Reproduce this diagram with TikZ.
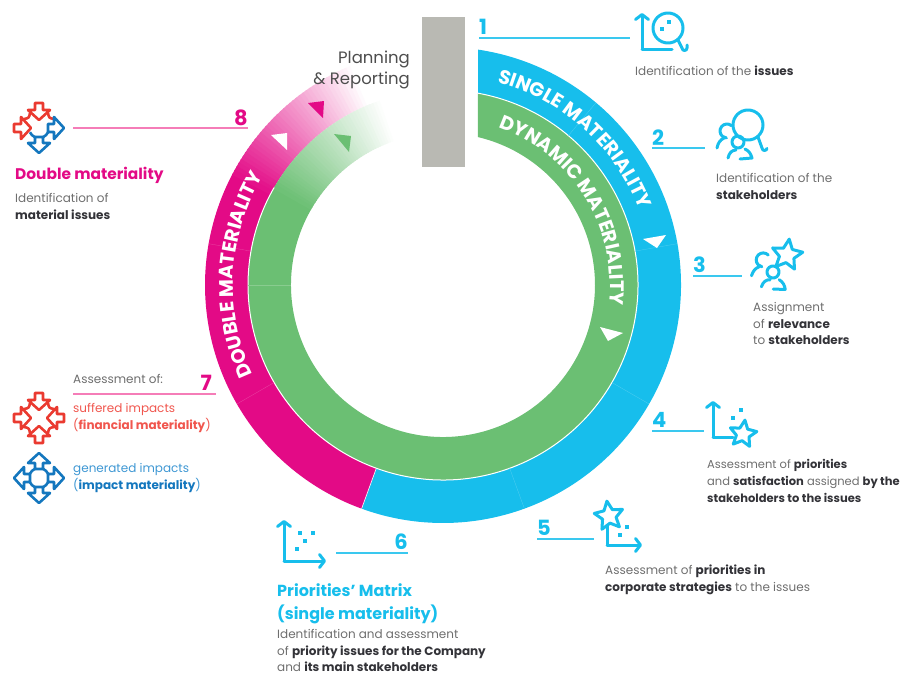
\documentclass[tikz,border=0pt]{standalone}
\usepackage{fontspec}
\setmainfont{Poppins}
\usepackage{xcolor}
\usetikzlibrary{calc,arrows.meta,decorations.text}

\definecolor{ringblue}{HTML}{17BEEC}
\definecolor{ringgreen}{HTML}{6BBF73}
\definecolor{ringpink}{HTML}{E30A86}
\definecolor{barGray}{HTML}{B9B9B3}
\definecolor{leadpink}{HTML}{F57DB8}
\definecolor{iconred}{HTML}{EA3A30}
\definecolor{iconblue}{HTML}{1477BE}
\definecolor{textgray}{HTML}{6E6E6E}
\definecolor{textdark}{HTML}{333338}
\definecolor{textred}{HTML}{F0564E}
\definecolor{textblue}{HTML}{3E97D3}

\newcommand{\ringfont}{\fontsize{19.5}{19.5}\selectfont\bfseries}
\newcommand{\dk}[1]{\textbf{\textcolor{textdark}{#1}}}

\tikzset{
    bodytext/.style={font=\fontsize{12}{16.8}\selectfont, text=textgray, align=left, anchor=north west, inner sep=0pt},
    headtext/.style={font=\fontsize{16}{23}\selectfont\bfseries, align=left, anchor=north west, inner sep=0pt},
    numcyan/.style={font=\fontsize{21}{21}\selectfont\bfseries, text=ringblue, inner sep=0pt},
    numpink/.style={font=\fontsize{21}{21}\selectfont\bfseries, text=ringpink, inner sep=0pt},
    leadcyan/.style={draw=ringblue!85, line width=1.5pt},
    leadpinkline/.style={draw=leadpink, line width=1.5pt},
    tri/.style={fill=white},
    seam/.style={line width=0.3pt},
    cyanicon/.style={color=ringblue, line width=3pt, line join=round, line cap=round},
    redicon/.style={color=iconred, line width=2.6pt, line join=round},
    blueicon/.style={color=iconblue, line width=2.6pt, line join=round},
    barb/.style={-{Straight Barb[length=5pt,width=13pt,round]}},
    pics/inblock/.style={code={
        \draw (-4,25)--(4,25)--(4,18)--(11,18)--(0,8)--(-11,18)--(-4,18)--cycle;
        \draw (9,15) .. controls (10,10) .. (15,9);
    }},
    pics/outblock/.style={code={
        \draw (0,25)--(11,15)--(4,15)--(4,9)--(-4,9)--(-4,15)--(-11,15)--cycle;
        \draw (65:10) arc (65:25:10);
    }},
    pics/staricon/.style={code={
        \draw (90:1)--(126:.48)--(162:1)--(198:.48)--(234:1)--(270:.48)--(306:1)--(342:.48)--(18:1)--(54:.48)--cycle;
    }},
    pics/peopleicon/.style={code={
        % back person
        \draw ($(-11,11)+(50:7)$) arc (50:265:7);
        \draw (-21,-6) .. controls (-20,-1) and (-18,2) .. (-14,4);
        % front person
        \draw (0,0) circle (6);
        \draw (-10,-16) .. controls (-9,-11) and (-6,-8) .. (-2,-8);
        \draw (7,-7) .. controls (11,-9) and (13,-12) .. (14,-16) -- (2,-17);
    }},
}

\begin{document}
\begin{tikzpicture}[x=1pt,y=1pt]
    \useasboundingbox (0,0) rectangle (905,-678);

    % Ring
    \begin{scope}[shift={(443,-285)}]
        % Outer band
        \fill[ringblue] (81.54:238) arc (81.54:-110:238) -- (-110:195) arc (-110:79.66:195) -- cycle;
        \fill[ringpink] (250:238) arc (250:152:238) -- (152:195) arc (152:250:195) -- cycle;
        % Inner band
        \fill[ringgreen] (79.66:195) arc (79.66:-210:195) -- (-210:152) arc (-210:76.69:152) -- cycle;

        % Faded ends
        \foreach \a in {112,...,151} {
            \pgfmathtruncatemacro\p{(\a-112)*100/40}
            \fill[ringpink!\p!white] (\a:238) arc (\a:\a+1.4:238) -- (\a+1.4:195) arc (\a+1.4:\a:195) -- cycle;
        }
        \foreach \a in {108,...,149} {
            \pgfmathtruncatemacro\p{(\a-108)*100/42}
            \fill[ringgreen!\p!white] (\a:195) arc (\a:\a+1.4:195) -- (\a+1.4:152) arc (\a+1.4:\a:152) -- cycle;
        }

        % White line between the bands
        \draw[white, line width=1pt] (79.66:195) arc (79.66:-210:195);

        % Seams
        \foreach \a in {50,10,-30,-70} {
            \draw[seam, white!25!ringblue] (\a:195) -- (\a:238);
        }
        \foreach \a in {170,210} {
            \draw[seam, white!25!ringpink] (\a:195) -- (\a:238);
        }
        \draw[white, line width=0.6pt] (250:195) -- (250:238);
        \draw[seam, white!20!ringgreen] (180:152) -- (180:195);

        % Band titles
        \path[decorate, decoration={text along path, text align={align=center}, text color=white,
            text={|\ringfont|SINGLE MATERIALITY}}] (95:210) arc (95:1:210);
        \path[decorate, decoration={text along path, text align={align=center}, text color=white,
            text={|\ringfont|DYNAMIC MATERIALITY}}] (88:167) arc (88:-24:167);
        \path[decorate, decoration={text along path, text align={align=center}, text color=white,
            text={|\ringfont|DOUBLE MATERIALITY}}] (225:210) arc (225:129:210);
    \end{scope}

    % Grey bar
    \fill[barGray] (422,-17) rectangle (465,-167);

    % Triangles
    \fill[tri] (643,-239) -- (666,-235) -- (657,-248) -- cycle;
    \fill[tri] (600,-327) -- (623,-333) -- (608,-341) -- cycle;
    \fill[tri] (271,-135) -- (287,-133) -- (287,-150) -- cycle;
    \fill[ringpink] (308,-103) -- (324,-101) -- (323,-118) -- cycle;
    \fill[ringgreen] (334,-134) -- (351,-136) -- (349,-152) -- cycle;

    \node[font=\fontsize{16.5}{21.5}\selectfont, text=textgray!70!black, align=right, anchor=east, inner sep=0pt] (planning) at (410,-70) {Planning\\\& Reporting};

    % Leaders
    \coordinate (a1) at (479,-38);  \coordinate (b1) at (630,-38);
    \coordinate (a2) at (652,-148); \coordinate (b2) at (705,-148);
    \coordinate (a3) at (693,-276); \coordinate (b3) at (742,-276);
    \coordinate (a4) at (652,-431); \coordinate (b4) at (704,-431);
    \coordinate (a5) at (537,-539); \coordinate (b5) at (594,-539);
    \coordinate (a6) at (336,-553); \coordinate (b6) at (408,-553);
    \coordinate (a7) at (73,-394);  \coordinate (b7) at (216,-394);
    \coordinate (a8) at (73,-128);  \coordinate (b8) at (248,-128);
    \foreach \i in {1,...,6} {
        \draw[leadcyan] (a\i) -- (b\i);
    }
    \draw[leadpinkline] (a7) -- (b7);
    \draw[leadpinkline] (a8) -- (b8);

    % Numbers
    \node[numcyan, anchor=base west] (n1) at (479,-34) {1};
    \node[numcyan, anchor=base west] (n2) at (652,-145) {2};
    \node[numcyan, anchor=base west] (n3) at (693,-272) {3};
    \node[numcyan, anchor=base west] (n4) at (652,-427) {4};
    \node[numcyan, anchor=base west] (n5) at (537,-535) {5};
    \node[numcyan, anchor=base east] (n6) at (408,-549) {6};
    \node[numpink, anchor=base east] (n7) at (212,-390) {7};
    \node[numpink, anchor=base east] (n8) at (248,-125) {8};

    % Icon 1
    \draw[cyanicon, barb] (642,-49) -- (642,-13);
    \draw[cyanicon] (642,-49) -- (672,-49);
    \draw[cyanicon] (668,-28) circle (15);
    \draw[cyanicon] (678,-40) -- (682,-48) arc (180:360:2.5) -- (687,-45);
    \fill[ringblue] (667,-19.5) rectangle (671,-23.5);
    \fill[ringblue] (660,-26.5) rectangle (664,-30.5);

    % Icon 2
    \pic[cyanicon] at (738,-142) {peopleicon};
    \draw[cyanicon] (748,-125) circle (15);
    \draw[cyanicon] (758,-137) -- (762,-148) arc (180:350:2.5);

    % Icon 3
    \pic[cyanicon, rotate=-6] at (773,-272) {peopleicon};
    \pic[cyanicon, scale=16, rotate=-8] at (787,-255) {staricon};

    % Icon 4
    \draw[cyanicon, barb] (713,-437) -- (713,-401);
    \draw[cyanicon] (713,-437) -- (733,-437);
    \pic[cyanicon, scale=14, rotate=-8] at (743,-434) {staricon};
    \fill[ringblue] (739,-408) rectangle (743,-412);
    \fill[ringblue] (731,-416) rectangle (735,-420);

    % Icon 5
    \pic[cyanicon, scale=15, rotate=8] at (609,-516) {staricon};
    \draw[cyanicon, barb] (607,-545) -- (642,-545);
    \draw[cyanicon] (607,-545) -- (607,-526);
    \fill[ringblue] (625,-525) rectangle (629,-529);
    \fill[ringblue] (618,-533) rectangle (622,-537);

    % Icon 6
    \draw[cyanicon, barb] (284,-561) -- (284,-520);
    \draw[cyanicon, barb] (284,-561) -- (326,-561);
    \foreach \dx/\dy in {300/533,313/533,305/541,297/549} {
        \fill[ringblue] (\dx-2,-\dy+2) rectangle (\dx+2,-\dy-2);
    }

    % Icon 8
    \foreach \r in {0,90} {
        \pic[redicon, rotate=\r] at (39,-128) {inblock};
    }
    \foreach \r in {-90,180} {
        \pic[blueicon, rotate=\r] at (39,-128) {outblock};
    }

    % Icon 7
    \foreach \r in {0,90,180,270} {
        \pic[redicon, rotate=\r] at (39,-418) {inblock};
        \pic[blueicon, rotate=\r] at (39,-478) {outblock};
    }

    % Texts
    \node[bodytext] (t1) at (635,-66) {Identification of the \dk{issues}};
    \node[bodytext] (t2) at (716,-173) {Identification of the\\\dk{stakeholders}};
    \node[bodytext] (t3) at (753,-302) {Assignment\\of \dk{relevance}\\to \dk{stakeholders}};
    \node[bodytext, font=\fontsize{11.5}{16.8}\selectfont] (t4) at (707,-459) {Assessment of \dk{priorities}\\and \dk{satisfaction} assigned \dk{by the}\\\dk{stakeholders to the issues}};
    \node[bodytext] (t5) at (605,-565) {Assessment of \dk{priorities in}\\\dk{corporate strategies} to the issues};
    \node[headtext, text=ringblue] (h6) at (277,-583) {Priorities’ Matrix\\(single materiality)};
    \node[bodytext] (t6) at (277,-629) {Identification and assessment\\of \dk{priority issues for the Company}\\and \dk{its main stakeholders}};
    \node[bodytext] (t7) at (73,-374) {Assessment of:};
    \node[bodytext, text=textred] (t7a) at (73,-403) {suffered impacts\\(\textbf{financial materiality})};
    \node[bodytext, text=textblue] (t7b) at (73,-463) {generated impacts\\(\textbf{\textcolor{iconblue}{impact materiality}})};
    \node[headtext, text=ringpink, font=\fontsize{15.4}{23}\selectfont\bfseries] (h8) at (15,-167) {Double materiality};
    \node[bodytext] (t8) at (15,-193) {Identification of\\\dk{material issues}};
\end{tikzpicture}
\end{document}
